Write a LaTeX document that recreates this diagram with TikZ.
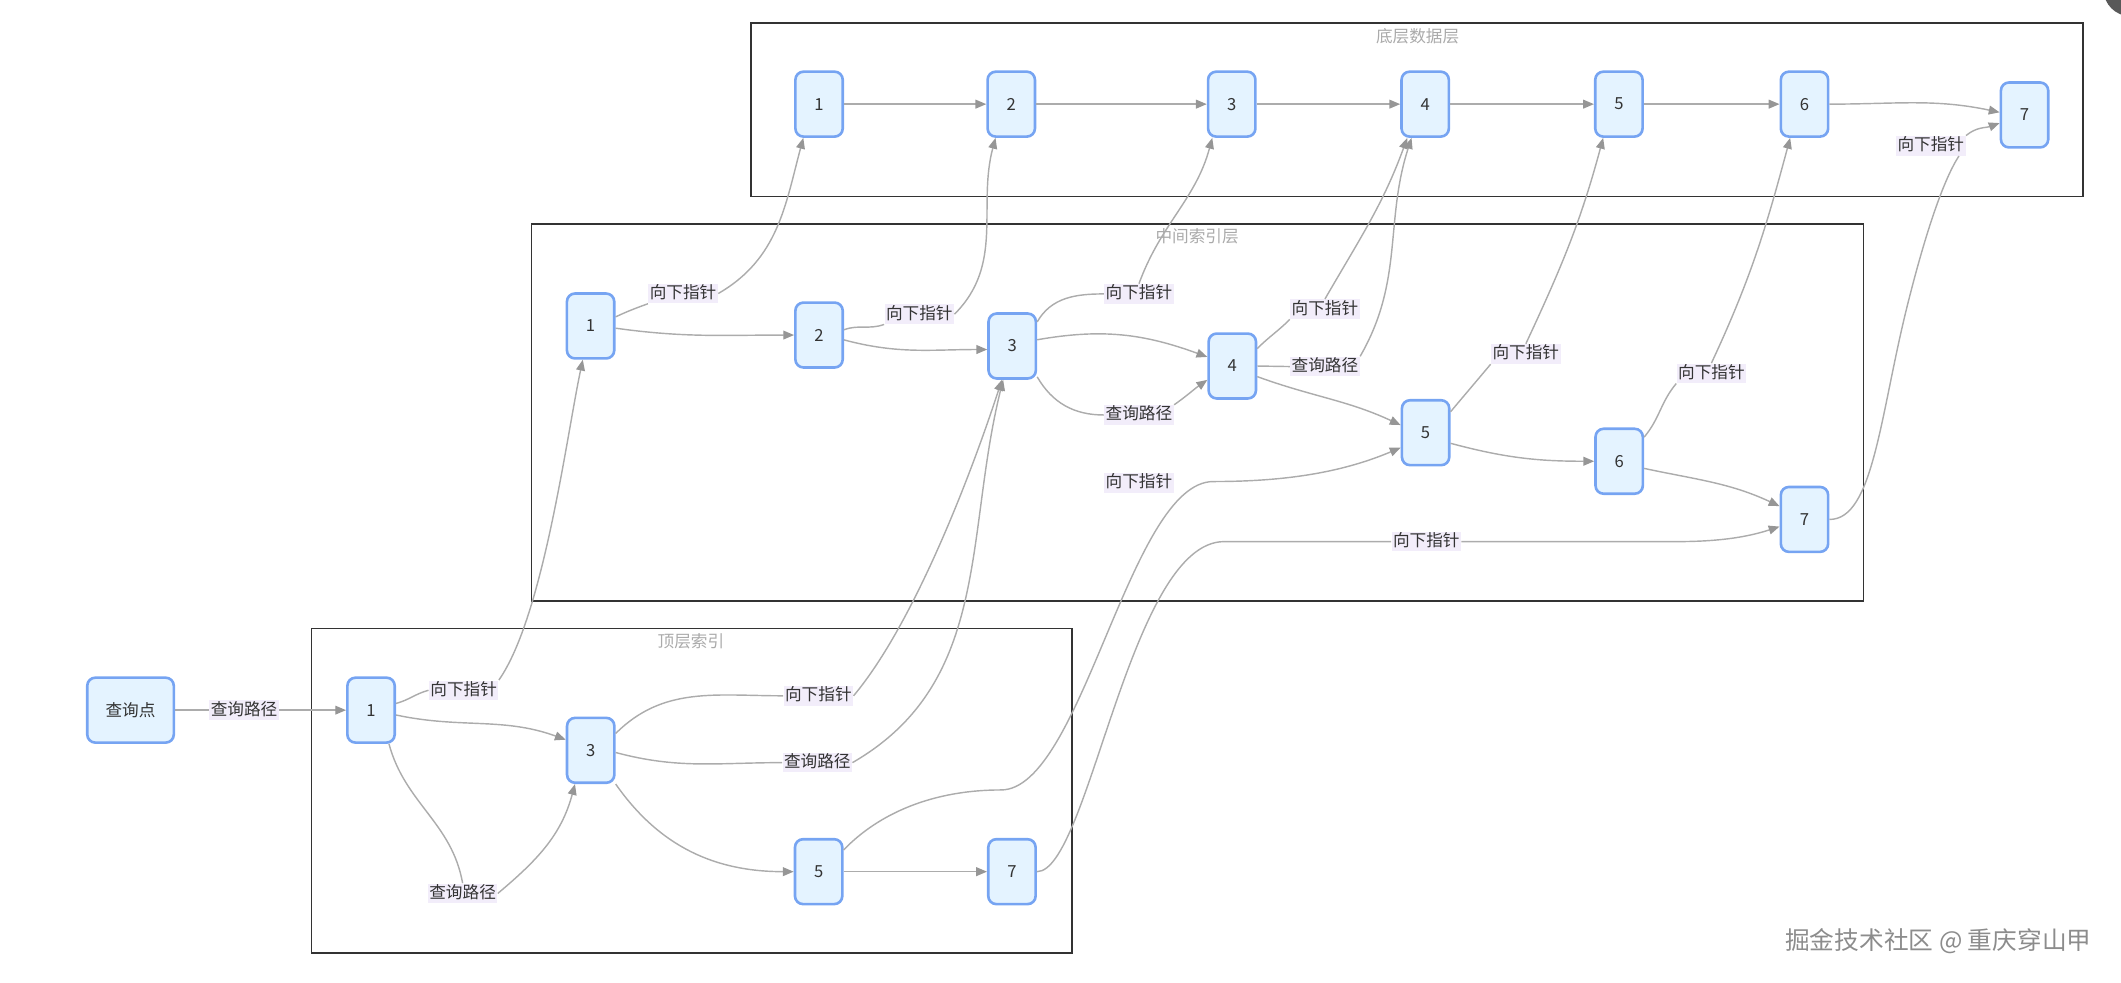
\documentclass[tikz,border=0pt]{standalone}
\usepackage{fontspec}
\setmainfont{Noto Sans CJK SC}
\usetikzlibrary{arrows.meta,positioning,calc}
\definecolor{colNoeud}{RGB}{228,243,255}
\definecolor{colBord}{RGB}{118,164,242}
\definecolor{colLien}{RGB}{172,172,172}
\definecolor{colPointe}{RGB}{150,150,150}
\definecolor{colEtiq}{RGB}{242,237,250}
\definecolor{colTexte}{RGB}{51,51,51}
\definecolor{colTitre}{RGB}{170,170,170}
\definecolor{colFiligrane}{RGB}{140,140,140}

\begin{document}
\begin{tikzpicture}[x=0.02cm, y=0.02cm, font=\fontsize{7}{8}\selectfont,
    b/.style={rectangle, rounded corners=3.4pt, draw=colBord, fill=colNoeud,
      line width=1.1pt, minimum width=0.70cm, minimum height=0.96cm,
      inner sep=0pt, text=colTexte},
    lab/.style={fill=colEtiq, text=colTexte, inner xsep=0.6pt, inner ysep=0.6pt,
      text height=5.6pt, text depth=1.4pt},
    cadre/.style={draw=black!80, line width=0.7pt},
    titre/.style={text=colTitre},
    fl/.style={-{Triangle[length=1.6mm, width=1.3mm, color=colPointe]},
      colLien, line width=0.6pt}]
    \useasboundingbox (0,0) rectangle (1568,726);
    \fill[black!65] (1575,734) circle (20);
    \draw[cadre] (555,580.6) rectangle (1540,709);
    \node[titre] (tb) at (1048,699) {底层数据层};
    \draw[cadre] (393,281.7) rectangle (1377.6,560.2);
    \node[titre] (tm) at (885,551) {中间索引层};
    \draw[cadre] (230.3,21.7) rectangle (792.4,261.4);
    \node[titre] (tt) at (510.8,251.6) {顶层索引};

    \node[b, minimum width=1.28cm] (q) at (96.5,201) {查询点};
    \node[b] (t1) at (274.3,201) {1};
    \node[b] (t3) at (436.7,171.3) {3};
    \node[b] (t5) at (605.2,81.6) {5};
    \node[b] (t7) at (748.1,81.6) {7};
    \node[b] (m1) at (436.6,485) {1};
    \node[b] (m2) at (605.5,478.3) {2};
    \node[b] (m3) at (748.3,470.2) {3};
    \node[b] (m4) at (911,455.4) {4};
    \node[b] (m5) at (1053.9,406.1) {5};
    \node[b] (m6) at (1197,385) {6};
    \node[b] (m7) at (1334,342) {7};
    \node[b] (b1) at (605.5,649) {1};
    \node[b] (b2) at (747.6,649) {2};
    \node[b] (b3) at (910.6,649) {3};
    \node[b] (b4) at (1053.6,649) {4};
    \node[b] (b5) at (1196.8,649) {5};
    \node[b] (b6) at (1334,649) {6};
    \node[b] (b7) at (1496.7,641) {7};

    \node[lab] (lq) at (180.4,201) {查询路径};
    \node[lab] (lt1a) at (342.8,215.7) {向下指针};
    \node[lab] (lt1b) at (342,65.5) {查询路径};
    \node[lab] (lt3a) at (605,211.6) {向下指针};
    \node[lab] (lt3b) at (604.2,162.2) {查询路径};
    \node[lab] (lt5) at (842,369) {向下指针};
    \node[lab] (lt7) at (1054.4,325.6) {向下指针};
    \node[lab] (lm1) at (505,509) {向下指针};
    \node[lab] (lm2) at (679.6,493.7) {向下指针};
    \node[lab] (lm3a) at (842,508.7) {向下指针};
    \node[lab] (lm3b) at (842,419.2) {查询路径};
    \node[lab] (lm4a) at (979.5,497.4) {向下指针};
    \node[lab] (lm4b) at (979.5,455) {查询路径};
    \node[lab] (lm5) at (1128,464.3) {向下指针};
    \node[lab] (lm6) at (1265.2,450) {向下指针};
    \node[lab] (lm7) at (1427.4,618.2) {向下指针};

    \draw[fl] (q) -- (lq) -- (t1);
    \draw[fl] (t1.15) to[out=15,in=195] (lt1a.west)
      (lt1a.north east) to[out=55,in=-102,looseness=0.6] (m1.-103);
    \draw[fl] (t1.-11) to[out=-12,in=160] (t3.157);
    \draw[fl] (t1.-62) to[out=-75,in=100] (lt1b.north)
      (lt1b.east) to[out=40,in=-105] (t3.-115);
    \draw[fl] (t3.34) to[out=45,in=180] (lt3a.west)
      (lt3a.east) to[out=50,in=-108,looseness=0.7] (m3.-107);
    \draw[fl] (t3.-5) to[out=-15,in=180] (lt3b.west)
      (lt3b.east) to[out=30,in=-104] (m3.-105);
    \draw[fl] (t3.south east) to[out=-55,in=180] (t5.west);
    \draw[fl] (t5) -- (t7);
    \draw[fl] (t5.41) .. controls (650,125) and (690,142) .. (740,142)
      .. controls (800,142) and (835,370) .. (897,370)
      .. controls (955,370) and (995,378) .. (m5.211);
    \draw[fl] (t7.east) .. controls (805,81.6) and (835,325.6) .. (905,325.6)
      -- (lt7.west) (lt7.east) -- (1240,325.6)
      .. controls (1275,325.6) and (1295,330) .. (m7.196);

    \draw[fl] (m1.-5) to[out=-8,in=180] (m2.west);
    \draw[fl] (m1.20) to[out=25,in=200] (lm1.south west)
      (lm1.east) to[out=30,in=-105] (b1.-115);
    \draw[fl] (m2.-11) to[out=-15,in=180] (m3.188);
    \draw[fl] (m2.12) to[out=20,in=200] (lm2.south west)
      (lm2.east) to[out=45,in=-105] (b2.-115);
    \draw[fl] (m3.14) to[out=10,in=160] (m4.160);
    \draw[fl] (m3.44) to[out=60,in=180] (lm3a.west)
      (lm3a.north) to[out=70,in=-105] (b3.-120);
    \draw[fl] (m3.-51) to[out=-60,in=180] (lm3b.west)
      (lm3b.north east) to[out=35,in=215] (m4.209);
    \draw[fl] (m4.35) to[out=45,in=225] (lm4a.south west)
      (lm4a.north) to[out=60,in=-110] (b4.-118);
    \draw[fl] (m4.east) -- (lm4b.west)
      (lm4b.north east) to[out=60,in=-108] (b4.-112);
    \draw[fl] (m4.-23) to[out=-20,in=155] (m5.163);
    \draw[fl] (m5.40) to[out=50,in=230] (lm5.south west)
      (lm5.north) to[out=65,in=-105] (b5.-115);
    \draw[fl] (m5.-23) to[out=-15,in=180] (m6.west);
    \draw[fl] (m6.44) to[out=50,in=230] (lm6.south west)
      (lm6.north) to[out=65,in=-105] (b6.-113);
    \draw[fl] (m6.-16) to[out=-12,in=155] (m7.152);
    \draw[fl] (m7.east) .. controls (1385,341.6) and (1390,420) .. (1410,500)
      .. controls (1425,560) and (1438,595) .. (lm7.-20)
      (lm7.north east) to[out=40,in=200] (b7.198);

    \draw[fl] (b1) -- (b2);
    \draw[fl] (b2) -- (b3);
    \draw[fl] (b3) -- (b4);
    \draw[fl] (b4) -- (b5);
    \draw[fl] (b5) -- (b6);
    \draw[fl] (b6.east) to[out=0,in=168] (b7.174);

    \node[text=colFiligrane, font=\fontsize{10.4}{12}\selectfont] (wm)
      at (1433,30) {掘金技术社区 @ 重庆穿山甲};
  \end{tikzpicture}
\end{document}
